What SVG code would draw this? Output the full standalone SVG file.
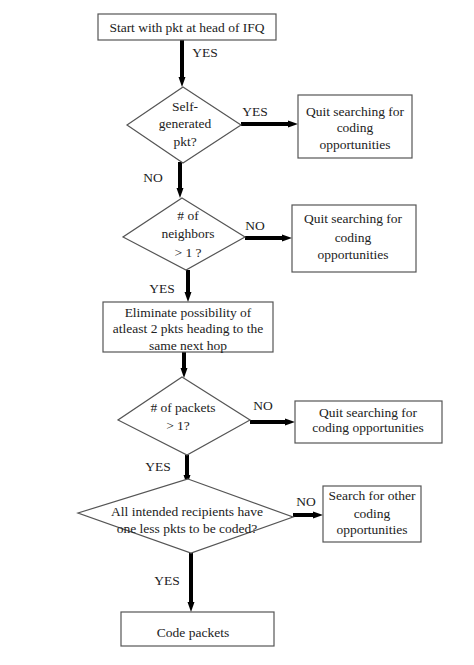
<svg xmlns="http://www.w3.org/2000/svg" width="474" height="665" viewBox="0 0 474 665">
<style>
.shape{fill:#fff;stroke:#555;stroke-width:1.2}
.t{font-family:"Liberation Serif",serif;font-size:13.5px;fill:#222;text-anchor:middle;dominant-baseline:central}
.c{stroke:#000;stroke-width:4;fill:none}
</style>
<defs>
<marker id="ah" markerUnits="userSpaceOnUse" markerWidth="10" markerHeight="10" viewBox="0 0 10 10" refX="0" refY="5" orient="auto">
<path d="M0,1.5 L10,5 L0,8.5 z" fill="#000"/>
</marker>
</defs>
<rect width="474" height="665" fill="#fff"/>
<g id="connectors">
<line class="c" x1="182" y1="40" x2="182" y2="77" marker-end="url(#ah)"/>
<text class="t" x="205" y="52">YES</text>
<line class="c" x1="241" y1="124" x2="288" y2="124" marker-end="url(#ah)"/>
<text class="t" x="255" y="111">YES</text>
<line class="c" x1="180" y1="162" x2="180" y2="188" marker-end="url(#ah)"/>
<text class="t" x="153" y="177">NO</text>
<line class="c" x1="245" y1="238" x2="282" y2="238" marker-end="url(#ah)"/>
<text class="t" x="255" y="225">NO</text>
<line class="c" x1="188" y1="270" x2="188" y2="292" marker-end="url(#ah)"/>
<text class="t" x="162" y="288">YES</text>
<line class="c" x1="184" y1="352" x2="184" y2="368" marker-end="url(#ah)"/>
<line class="c" x1="250" y1="422" x2="285" y2="422" marker-end="url(#ah)"/>
<text class="t" x="263" y="405">NO</text>
<line class="c" x1="187" y1="455" x2="187" y2="475" marker-end="url(#ah)"/>
<text class="t" x="158" y="466">YES</text>
<line class="c" x1="293" y1="515" x2="313" y2="515" marker-end="url(#ah)"/>
<text class="t" x="306" y="501">NO</text>
<line class="c" x1="191" y1="553" x2="191" y2="602" marker-end="url(#ah)"/>
<text class="t" x="167" y="580">YES</text>
</g>
<g id="start">
<rect class="shape" x="98" y="14" width="178" height="26"/>
<text class="t" x="187" y="27">Start with pkt at head of IFQ</text>
</g>
<g id="selfgen">
<polygon class="shape" points="183,87 241,125 183,163 127,125"/>
<text class="t" x="185" y="106">Self-</text>
<text class="t" x="185" y="123">generated</text>
<text class="t" x="185" y="141">pkt?</text>
</g>
<g id="quit1">
<rect class="shape" x="298" y="95" width="114" height="63"/>
<text class="t" x="355" y="111">Quit searching for</text>
<text class="t" x="355" y="127">coding</text>
<text class="t" x="355" y="144">opportunities</text>
</g>
<g id="neighbors">
<polygon class="shape" points="182,198 245,237 186,270 123,237"/>
<text class="t" x="188" y="215"># of</text>
<text class="t" x="188" y="233">neighbors</text>
<text class="t" x="188" y="252">&gt; 1 ?</text>
</g>
<g id="quit2">
<rect class="shape" x="292" y="205" width="124" height="67"/>
<text class="t" x="353" y="218">Quit searching for</text>
<text class="t" x="353" y="237">coding</text>
<text class="t" x="353" y="254">opportunities</text>
</g>
<g id="eliminate">
<rect class="shape" x="103" y="302" width="170" height="50"/>
<text class="t" x="188" y="312">Eliminate possibility of</text>
<text class="t" x="188" y="328">atleast 2 pkts heading to the</text>
<text class="t" x="188" y="345">same next hop</text>
</g>
<g id="packets">
<polygon class="shape" points="182,377 250,420 187,455 118,420"/>
<text class="t" x="183" y="407"># of packets</text>
<text class="t" x="178" y="425">&gt; 1?</text>
</g>
<g id="quit3">
<rect class="shape" x="295" y="401" width="147" height="42"/>
<text class="t" x="368" y="412">Quit searching for</text>
<text class="t" x="368" y="427">coding opportunities</text>
</g>
<g id="recipients">
<polygon class="shape" points="188,479 293,517 191,553 78,513"/>
<text class="t" x="187" y="511">All intended recipients have</text>
<text class="t" x="187" y="528">one less pkts to be coded?</text>
</g>
<g id="search">
<rect class="shape" x="323" y="486" width="98" height="56"/>
<text class="t" x="372" y="495">Search for other</text>
<text class="t" x="372" y="513">coding</text>
<text class="t" x="372" y="529">opportunities</text>
</g>
<g id="code">
<rect class="shape" x="121" y="612" width="153" height="34"/>
<text class="t" x="193" y="632">Code packets</text>
</g>
</svg>
